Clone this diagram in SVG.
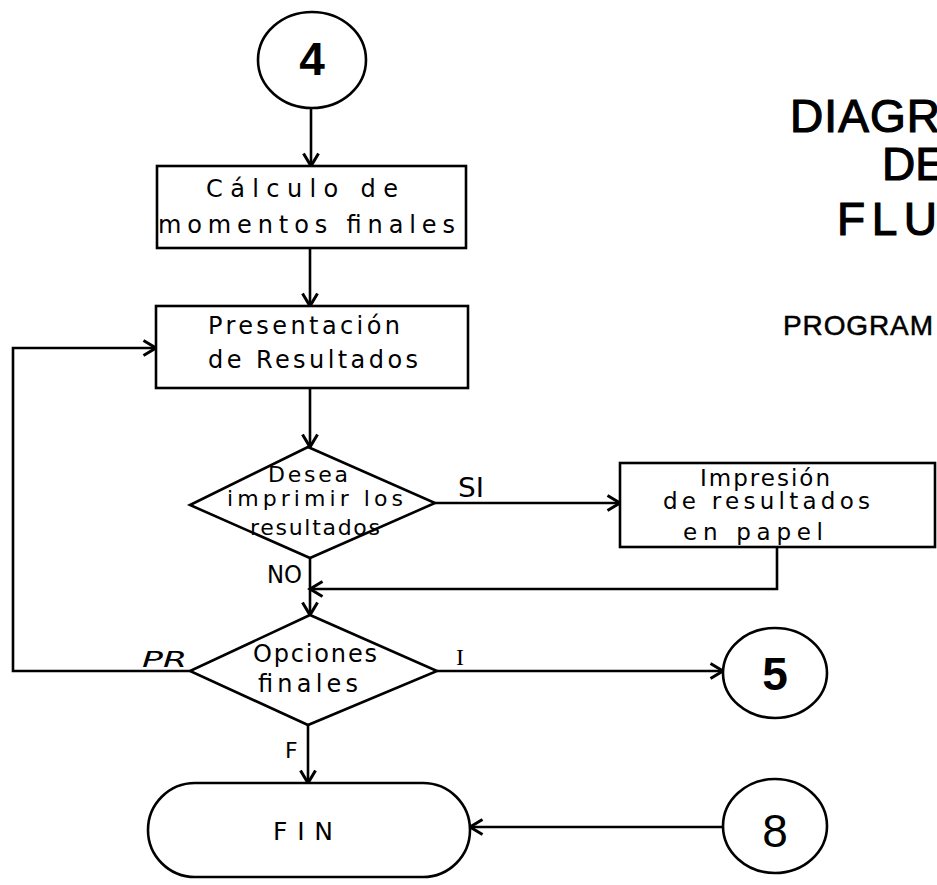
<svg xmlns="http://www.w3.org/2000/svg" width="937" height="885" viewBox="0 0 937 885">
<defs>
<marker id="arr" markerUnits="userSpaceOnUse" markerWidth="20" markerHeight="20" viewBox="-12 -8 14 16" refX="0" refY="0" orient="auto">
<path d="M-10,-6 L0,0 L-10,6" fill="none" stroke="#000" stroke-width="2.4"/>
</marker>
</defs>
<style>
.s{fill:#fff;stroke:#000;stroke-width:2.6}
.c{fill:none;stroke:#000;stroke-width:2.6}
.t{font-family:"DejaVu Sans","Liberation Sans",sans-serif;font-size:24px;fill:#000}
.m{text-anchor:middle}
.big{font-family:"Liberation Sans","DejaVu Sans",sans-serif;font-size:46px;fill:#000}
.ttl{stroke:#000;stroke-width:1.2}
</style>
<rect width="937" height="885" fill="#fff"/>
<g id="title">
<text class="big ttl" x="790" y="132" textLength="150" lengthAdjust="spacing">DIAGR</text>
<text class="big ttl" x="882" y="180">DE</text>
<text class="big ttl" x="837" y="235" textLength="100" lengthAdjust="spacing">FLU</text>
<text class="big" x="783" y="335" style="font-size:28px;stroke:#000;stroke-width:0.5" textLength="150" lengthAdjust="spacing">PROGRAM</text>
</g>
<g id="connectors">
<path class="c" d="M311,108 V166" marker-end="url(#arr)"/>
<path class="c" d="M310,248 V306" marker-end="url(#arr)"/>
<path class="c" d="M310,388 V447" marker-end="url(#arr)"/>
<path class="c" d="M435,503 H620" marker-end="url(#arr)"/>
<path class="c" d="M777,547 V589 H310" marker-end="url(#arr)"/>
<path class="c" d="M310,558 V615" marker-end="url(#arr)"/>
<path class="c" d="M190,671 H13 V348 H156" marker-end="url(#arr)"/>
<path class="c" d="M437,671 H723" marker-end="url(#arr)"/>
<path class="c" d="M308,725 V783" marker-end="url(#arr)"/>
<path class="c" d="M722,827 H470" marker-end="url(#arr)"/>
<text class="t" x="458" y="497" style="font-size:26px" textLength="26" lengthAdjust="spacingAndGlyphs">SI</text>
<text class="t" x="267" y="583" style="font-size:25px" textLength="35" lengthAdjust="spacingAndGlyphs">NO</text>
<text class="t" x="142" y="667" style="font-size:21px;font-style:italic" textLength="45" lengthAdjust="spacingAndGlyphs">PR</text>
<text class="t" x="456" y="665" style="font-size:24px;font-family:'Liberation Serif',serif">I</text>
<text class="t" x="285" y="758" style="font-size:22px">F</text>
</g>
<g id="n4">
<ellipse class="s" cx="312" cy="60" rx="54" ry="48"/>
<text class="big m" x="312" y="75" style="font-weight:bold">4</text>
</g>
<g id="calculo">
<rect class="s" x="157" y="166" width="309" height="82"/>
<text class="t" x="206" y="197" textLength="192" lengthAdjust="spacing">Cálculo   de</text>
<text class="t" x="158" y="233" textLength="297" lengthAdjust="spacing">momentos finales</text>
</g>
<g id="presentacion">
<rect class="s" x="156" y="306" width="312" height="82"/>
<text class="t" x="208" y="334" textLength="192" lengthAdjust="spacing">Presentación</text>
<text class="t" x="208" y="368" textLength="210" lengthAdjust="spacing">de Resultados</text>
</g>
<g id="desea">
<polygon class="s" points="308,447 435,503 310,558 190,505"/>
<text class="t" x="268" y="482" style="font-size:22px" textLength="80" lengthAdjust="spacing">Desea</text>
<text class="t" x="227" y="506" style="font-size:22px" textLength="176" lengthAdjust="spacing">imprimir  los</text>
<text class="t" x="250" y="535" style="font-size:22px" textLength="130" lengthAdjust="spacing">resultados</text>
</g>
<g id="impresion">
<rect class="s" x="620" y="463" width="315" height="84"/>
<text class="t" x="700" y="486" style="font-size:23px" textLength="130" lengthAdjust="spacing">Impresión</text>
<text class="t" x="663" y="509" style="font-size:23px" textLength="207" lengthAdjust="spacing">de  resultados</text>
<text class="t" x="683" y="540" style="font-size:23px" textLength="140" lengthAdjust="spacing">en  papel</text>
</g>
<g id="opciones">
<polygon class="s" points="310,615 437,671 308,725 190,671"/>
<text class="t" x="253" y="662" textLength="124" lengthAdjust="spacing">Opciones</text>
<text class="t" x="258" y="692" textLength="100" lengthAdjust="spacing">finales</text>
</g>
<g id="n5">
<ellipse class="s" cx="775" cy="673" rx="52" ry="45"/>
<text class="big m" x="775" y="690" style="font-weight:bold">5</text>
</g>
<g id="fin">
<rect class="s" x="148" y="783" width="322" height="94" rx="47" ry="47"/>
<text class="t" x="273" y="840" style="font-size:25px" textLength="60" lengthAdjust="spacing">FIN</text>
</g>
<g id="n8">
<ellipse class="s" cx="775" cy="826" rx="52" ry="47"/>
<text class="big m" x="775" y="847">8</text>
</g>
</svg>
